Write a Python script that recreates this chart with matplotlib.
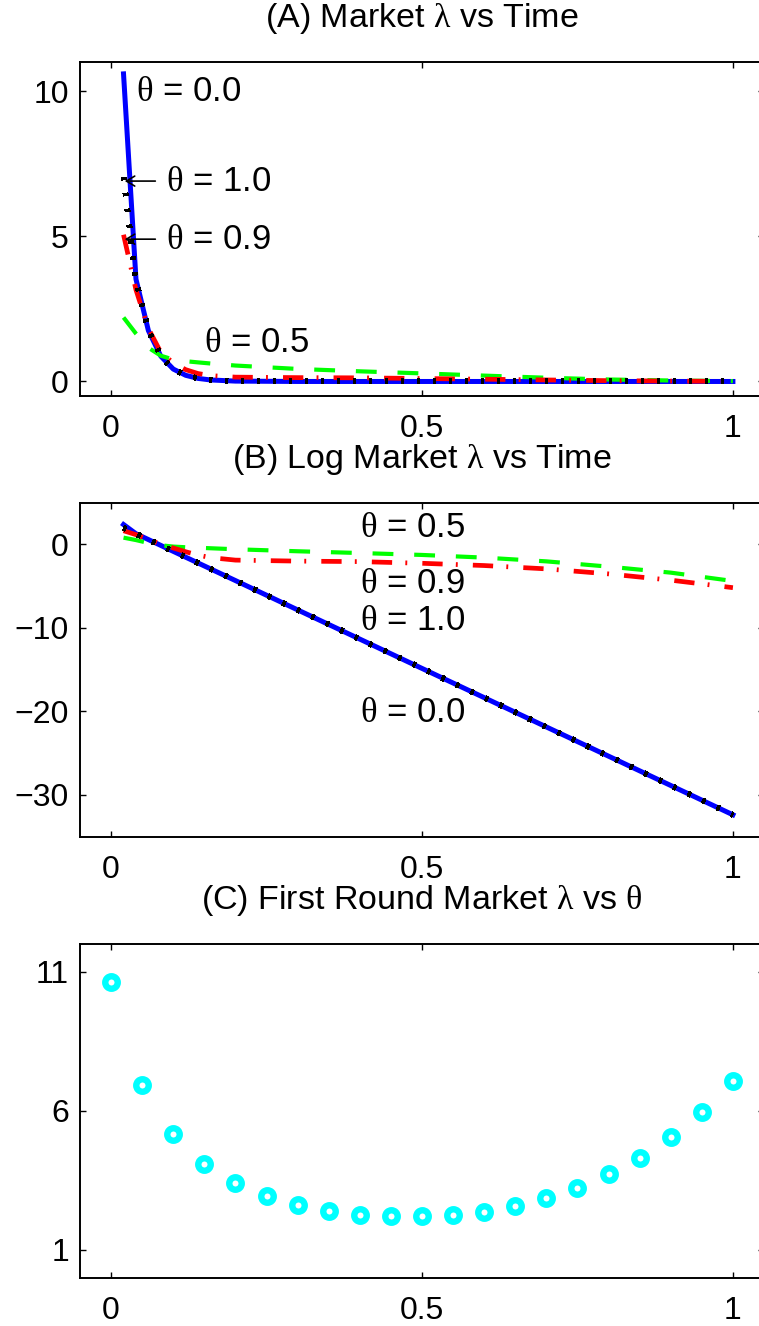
import numpy as np
import matplotlib
matplotlib.use('Agg')
import matplotlib.pyplot as plt

plt.rcParams['font.family'] = ['Liberation Sans', 'DejaVu Sans']
plt.rcParams['mathtext.fontset'] = 'custom'
plt.rcParams['mathtext.rm'] = 'Liberation Serif'
plt.rcParams['font.size'] = 23

# time grid and log market lambda for each theta
time = [0.02, 0.04, 0.06, 0.08, 0.10, 0.12, 0.14, 0.16, 0.20,
        0.30, 0.40, 0.50, 0.60, 0.70, 0.80, 0.90, 1.00]
log_lam_00 = [2.36, 1.26, 0.56, -0.14, -0.85, -1.55, -2.25, -2.95, -4.35,
              -7.86, -11.36, -14.87, -18.37, -21.88, -25.38, -28.89, -32.40]
log_lam_05 = [0.79, 0.50, 0.15, -0.12, -0.28, -0.36, -0.42, -0.48, -0.60,
              -0.84, -1.05, -1.28, -1.60, -2.05, -2.68, -3.40, -4.40]
log_lam_09 = [1.62, 1.15, 0.60, 0.00, -0.45, -0.90, -1.30, -1.60, -1.90,
              -2.02, -2.08, -2.28, -2.55, -2.95, -3.55, -4.30, -5.20]
log_lam_10 = [1.95, 1.25, 0.56, -0.14, -0.85, -1.55, -2.25, -2.95, -4.35,
              -7.86, -11.36, -14.87, -18.37, -21.88, -25.38, -28.89, -32.40]

# first round market lambda against theta
theta = [0.00, 0.05, 0.10, 0.15, 0.20, 0.25, 0.30, 0.35, 0.40, 0.45, 0.50,
         0.55, 0.60, 0.65, 0.70, 0.75, 0.80, 0.85, 0.90, 0.95, 1.00]
first_round = [10.62, 6.94, 5.15, 4.10, 3.41, 2.95, 2.62, 2.40, 2.25, 2.20, 2.20,
               2.25, 2.36, 2.58, 2.87, 3.24, 3.72, 4.31, 5.05, 5.96, 7.06]

TH = r'$\mathrm{\theta}$'
LAM = r'$\mathrm{\lambda}$'
TITLE_SIZE = 24.5
LABEL_SIZE = 25

W, H = 759, 1326
fig = plt.figure(figsize=(W / 100, H / 100), dpi=100)


def make_axes(top_px):
    # the right edge of each box runs slightly past the figure
    return fig.add_axes([80 / W, 1 - (top_px + 334) / H, 684 / W, 334 / H])


def style(ax, ylim, yticks):
    ax.set_xlim(-0.05, 1.05)
    ax.set_ylim(ylim)
    ax.set_xticks([0, 0.5, 1])
    ax.set_xticklabels(['0', '0.5', '1'])
    ax.set_yticks(yticks)
    ax.tick_params(direction='in', length=4.3, width=1, top=True, right=True,
                   labelsize=23)
    ax.tick_params(axis='x', pad=13)
    ax.tick_params(axis='y', pad=8)
    for s in ax.spines.values():
        s.set_linewidth(1.4)


def draw_lines(ax, transform):
    ax.plot(time, transform(log_lam_00), color='#0000ff', lw=3.6)
    ax.plot(time, transform(log_lam_05), color='#00ff00', lw=3, dashes=(5, 5))
    ax.plot(time, transform(log_lam_09), color='#ff0000', lw=3.4,
            dashes=(4.3, 2.8, 0.4, 3.2))
    ax.plot(time, transform(log_lam_10), color='black', lw=3.4,
            dashes=(0.45, 2.9), antialiased=False)


# (A) market lambda
ax1 = make_axes(62)
draw_lines(ax1, np.exp)
style(ax1, (-0.5, 11), [0, 5, 10])
ax1.set_title('(A) Market ' + LAM + ' vs Time', fontsize=TITLE_SIZE, pad=25)
ax1.text(0.04, 10, TH + ' = 0.0', va='center', fontsize=LABEL_SIZE)
ax1.text(0.15, 1.35, TH + ' = 0.5', va='center', fontsize=LABEL_SIZE)
arrow = dict(arrowstyle='->,head_length=0.5,head_width=0.3', mutation_scale=12,
             lw=1.2, color='black', shrinkA=6, shrinkB=0)
ax1.annotate(TH + ' = 1.0', xy=(0.022, 6.9), xytext=(30, 0),
             textcoords='offset points', va='center', fontsize=LABEL_SIZE,
             arrowprops=arrow)
ax1.annotate(TH + ' = 0.9', xy=(0.022, 4.9), xytext=(30, 0),
             textcoords='offset points', va='center', fontsize=LABEL_SIZE,
             arrowprops=arrow)

# (B) log market lambda
ax2 = make_axes(502.5)
draw_lines(ax2, np.asarray)
style(ax2, (-35, 5), [-30, -20, -10, 0])
ax2.set_title('(B) Log Market ' + LAM + ' vs Time', fontsize=TITLE_SIZE, pad=25)
ax2.text(0.4, 2.0, TH + ' = 0.5', va='center', fontsize=LABEL_SIZE)
ax2.text(0.4, -4.7, TH + ' = 0.9', va='center', fontsize=LABEL_SIZE)
ax2.text(0.4, -9.1, TH + ' = 1.0', va='center', fontsize=LABEL_SIZE)
ax2.text(0.4, -20.2, TH + ' = 0.0', va='center', fontsize=LABEL_SIZE)

# (C) first round lambda vs theta
ax3 = make_axes(943.7)
ax3.plot(theta, first_round, 'o', mfc='white', mec='#00ffff', ms=9, mew=4.6,
         ls='none')
style(ax3, (0, 12), [1, 6, 11])
ax3.set_title('(C) First Round Market ' + LAM + ' vs ' + TH,
              fontsize=TITLE_SIZE, pad=25)

fig.savefig('out.png', dpi=100)
